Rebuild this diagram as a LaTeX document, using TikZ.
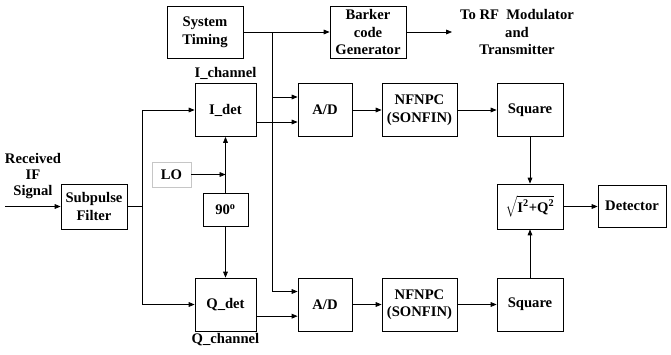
\documentclass[tikz,border=0pt]{standalone}
\usepackage{fontspec}
\setmainfont{Liberation Serif}
\usepackage{tikz}
\usetikzlibrary{positioning, arrows.meta}
\tikzset{
  blk/.style={draw, line width=0.7pt, inner sep=1pt, align=center},
  bx/.style 2 args={minimum width=#1*0.03cm, minimum height=#2*0.03cm},
  arr/.style={-{Triangle[length=5pt, width=4pt]}, line width=0.6pt},
  wire/.style={line width=0.6pt},
  lbl/.style={inner sep=1pt, align=center},
}

\begin{document}
\begin{tikzpicture}[x=0.03cm, y=-0.03cm, font=\fontsize{12.5}{15}\selectfont\bfseries]
    \useasboundingbox (0,0) rectangle (671,354);
    % timing and code generator
    \node[blk, bx={76}{52}] (timing) at (205,32) {System\\Timing};
    \node[blk, bx={76}{52}] (barker) at (368,32) {Barker\\code\\Generator};
    \node[lbl] (torf) at (517,32) {To RF\ \ Modulator\\and\\Transmitter};
    % front end
    \node[lbl, font=\fontsize{12.5}{13.5}\selectfont\bfseries] (rx) at (33,176) {Received\\IF\\Signal};
    \node[blk, bx={66}{45}] (filt) at (94,206.5) {Subpulse\\Filter};
    \node[blk, draw=gray!45, bx={39}{25}] (lo) at (171.5,174.5) {LO};
    \node[blk, bx={45}{33}] (ninety) at (225.5,210) {90\textsuperscript{o}};
    \node[blk, bx={61}{53}] (idet) at (225.5,110) {I\_det};
    \node[blk, bx={61}{53}] (qdet) at (225.5,304.5) {Q\_det};
    \node[lbl, above=0.05cm of idet] (ich) {I\_channel};
    \node[lbl, below=0.02cm of qdet] (qch) {Q\_channel};
    % I and Q paths
    \node[blk, bx={54}{53}] (adI) at (325,110) {A/D};
    \node[blk, bx={75}{53}] (nfI) at (419.5,110) {NFNPC\\(SONFIN)};
    \node[blk, bx={66}{53}] (sqI) at (530,110) {Square};
    \node[blk, bx={54}{53}] (adQ) at (325,304.5) {A/D};
    \node[blk, bx={75}{53}] (nfQ) at (419.5,304.5) {NFNPC\\(SONFIN)};
    \node[blk, bx={66}{53}] (sqQ) at (530,304.5) {Square};
    \node[blk, bx={66}{45}] (mag) at (530,206.5) {$\sqrt{\mbox{\bfseries I\textsuperscript{2}+Q\textsuperscript{2}}}$};
    \node[blk, bx={68}{42}] (det) at (632,206) {Detector};
    % connectors
    \coordinate (tap) at (272,32);
    \coordinate (rfin) at (452,32);
    \coordinate (rxin) at (5,206.5);
    \coordinate (split) at (142,206.5);
    \coordinate (lojoin) at (225.5,174.5);
    \draw[wire] (timing.east) -- (tap);
    \draw[arr] (tap) -- (barker.west);
    \draw[arr] (barker.east) -- (rfin);
    \draw[arr] (tap) |- ([yshift=0.39cm]adI.west);
    \draw[arr] (tap) |- ([yshift=0.39cm]adQ.west);
    \draw[arr] (rxin) -- (filt.west);
    \draw[wire] (filt.east) -- (split);
    \draw[arr] (split) |- (idet.west);
    \draw[arr] (split) |- (qdet.west);
    \draw[arr] (lo.east) -- (lojoin);
    \draw[arr] (ninety) -- (idet);
    \draw[arr] (ninety) -- (qdet);
    \draw[arr] ([yshift=-0.36cm]idet.east) -- ([yshift=-0.36cm]adI.west);
    \draw[arr] ([yshift=-0.35cm]qdet.east) -- ([yshift=-0.35cm]adQ.west);
    \draw[arr] (adI) -- (nfI);
    \draw[arr] (nfI) -- (sqI);
    \draw[arr] (adQ) -- (nfQ);
    \draw[arr] (nfQ) -- (sqQ);
    \draw[arr] (sqI) -- (mag);
    \draw[arr] (sqQ) -- (mag);
    \draw[arr] (mag.east) -- (det.west |- mag.east);
\end{tikzpicture}
\end{document}
